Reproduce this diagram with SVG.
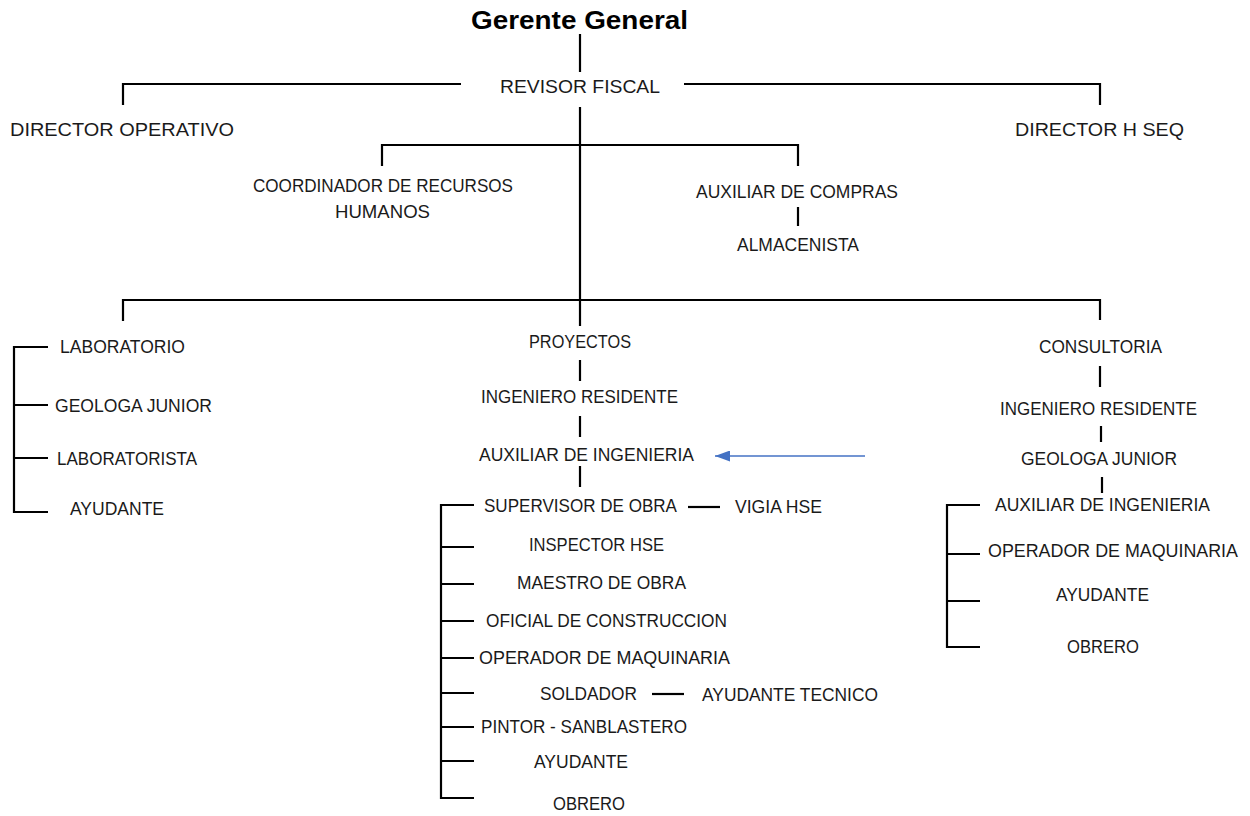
<svg xmlns="http://www.w3.org/2000/svg" width="1250" height="816" viewBox="0 0 1250 816">
<defs>
<style>
text{font-family:"Liberation Sans","Open Sans",Arial,sans-serif;font-size:18px;fill:#1a1a1a}
.t{font-size:25px;font-weight:bold;fill:#000}
.c line,.c polyline{stroke:#000;stroke-width:2.2;fill:none}
.c line.a{stroke:#4472C4;stroke-width:1.5;fill:none}
</style>
<marker id="ah" viewBox="0 0 15 11" refX="15" refY="5.5" markerWidth="15" markerHeight="11" orient="auto-start-reverse" markerUnits="userSpaceOnUse"><path d="M0,0 L15,5.5 L0,11 z" fill="#4472C4"/></marker>
</defs>
<rect width="1250" height="816" fill="#fff"/>
<g class="c" id="connectors">
<line x1="580" y1="34" x2="580" y2="72"/>
<polyline points="123,105 123,84 461,84"/>
<polyline points="684,84 1100,84 1100,105"/>
<line x1="580" y1="107" x2="580" y2="326"/>
<polyline points="382,166 382,145 798,145 798,166"/>
<line x1="798" y1="207" x2="798" y2="226"/>
<polyline points="123,321 123,300 1100,300 1100,320"/>
<polyline points="48,347 14,347 14,512 48,512"/>
<line x1="14" y1="405" x2="48" y2="405"/>
<line x1="14" y1="458" x2="48" y2="458"/>
<line x1="580" y1="360" x2="580" y2="381"/>
<line x1="580" y1="416" x2="580" y2="437"/>
<line x1="580" y1="466" x2="580" y2="487"/>
<polyline points="474,505 441,505 441,798 474,798"/>
<line x1="441" y1="547" x2="474" y2="547"/>
<line x1="441" y1="584" x2="474" y2="584"/>
<line x1="441" y1="621" x2="474" y2="621"/>
<line x1="441" y1="658" x2="474" y2="658"/>
<line x1="441" y1="693" x2="474" y2="693"/>
<line x1="441" y1="727" x2="474" y2="727"/>
<line x1="441" y1="761" x2="474" y2="761"/>
<line x1="688" y1="507" x2="720" y2="507"/>
<line x1="652" y1="694" x2="684" y2="694"/>
<line x1="1100" y1="366" x2="1100" y2="387"/>
<line x1="1101" y1="426" x2="1101" y2="442"/>
<line x1="1102" y1="477" x2="1102" y2="493"/>
<polyline points="980,505 947,505 947,647 980,647"/>
<line x1="947" y1="554" x2="980" y2="554"/>
<line x1="947" y1="601" x2="980" y2="601"/>
<line class="a" x1="865" y1="456" x2="715" y2="456" marker-end="url(#ah)"/>
</g>
<g id="gerente"><text class="t" x="471" y="29" textLength="217" lengthAdjust="spacingAndGlyphs">Gerente General</text></g>
<g id="revisor"><text x="500" y="93" textLength="160" lengthAdjust="spacingAndGlyphs">REVISOR FISCAL</text></g>
<g id="dir-op"><text x="10" y="136" textLength="224" lengthAdjust="spacingAndGlyphs">DIRECTOR OPERATIVO</text></g>
<g id="dir-hseq"><text x="1015" y="136" textLength="169" lengthAdjust="spacingAndGlyphs">DIRECTOR H SEQ</text></g>
<g id="coord-rrhh"><text x="253" y="192" textLength="260" lengthAdjust="spacingAndGlyphs">COORDINADOR DE RECURSOS</text><text x="335" y="218" textLength="95" lengthAdjust="spacingAndGlyphs">HUMANOS</text></g>
<g id="aux-compras"><text x="696" y="198" textLength="202" lengthAdjust="spacingAndGlyphs">AUXILIAR DE COMPRAS</text></g>
<g id="almacenista"><text x="737" y="251" textLength="122" lengthAdjust="spacingAndGlyphs">ALMACENISTA</text></g>
<g id="laboratorio"><text x="60" y="353" textLength="125" lengthAdjust="spacingAndGlyphs">LABORATORIO</text></g>
<g id="lab-geologa"><text x="55" y="412" textLength="157" lengthAdjust="spacingAndGlyphs">GEOLOGA JUNIOR</text></g>
<g id="laboratorista"><text x="57" y="465" textLength="140" lengthAdjust="spacingAndGlyphs">LABORATORISTA</text></g>
<g id="lab-ayudante"><text x="70" y="515" textLength="94" lengthAdjust="spacingAndGlyphs">AYUDANTE</text></g>
<g id="proyectos"><text x="529" y="348" textLength="102" lengthAdjust="spacingAndGlyphs">PROYECTOS</text></g>
<g id="pr-ingeniero"><text x="481" y="403" textLength="197" lengthAdjust="spacingAndGlyphs">INGENIERO RESIDENTE</text></g>
<g id="pr-auxiliar"><text x="479" y="461" textLength="215" lengthAdjust="spacingAndGlyphs">AUXILIAR DE INGENIERIA</text></g>
<g id="supervisor"><text x="484" y="512" textLength="193" lengthAdjust="spacingAndGlyphs">SUPERVISOR DE OBRA</text></g>
<g id="vigia"><text x="735" y="513" textLength="87" lengthAdjust="spacingAndGlyphs">VIGIA HSE</text></g>
<g id="inspector"><text x="529" y="551" textLength="135" lengthAdjust="spacingAndGlyphs">INSPECTOR HSE</text></g>
<g id="maestro"><text x="517" y="589" textLength="169" lengthAdjust="spacingAndGlyphs">MAESTRO DE OBRA</text></g>
<g id="oficial"><text x="486" y="627" textLength="241" lengthAdjust="spacingAndGlyphs">OFICIAL DE CONSTRUCCION</text></g>
<g id="pr-operador"><text x="479" y="664" textLength="251" lengthAdjust="spacingAndGlyphs">OPERADOR DE MAQUINARIA</text></g>
<g id="soldador"><text x="540" y="700" textLength="97" lengthAdjust="spacingAndGlyphs">SOLDADOR</text></g>
<g id="ayud-tecnico"><text x="702" y="701" textLength="176" lengthAdjust="spacingAndGlyphs">AYUDANTE TECNICO</text></g>
<g id="pintor"><text x="481" y="733" textLength="206" lengthAdjust="spacingAndGlyphs">PINTOR - SANBLASTERO</text></g>
<g id="pr-ayudante"><text x="534" y="768" textLength="94" lengthAdjust="spacingAndGlyphs">AYUDANTE</text></g>
<g id="pr-obrero"><text x="553" y="810" textLength="72" lengthAdjust="spacingAndGlyphs">OBRERO</text></g>
<g id="consultoria"><text x="1039" y="353" textLength="123" lengthAdjust="spacingAndGlyphs">CONSULTORIA</text></g>
<g id="co-ingeniero"><text x="1000" y="415" textLength="197" lengthAdjust="spacingAndGlyphs">INGENIERO RESIDENTE</text></g>
<g id="co-geologa"><text x="1021" y="465" textLength="156" lengthAdjust="spacingAndGlyphs">GEOLOGA JUNIOR</text></g>
<g id="co-auxiliar"><text x="995" y="511" textLength="215" lengthAdjust="spacingAndGlyphs">AUXILIAR DE INGENIERIA</text></g>
<g id="co-operador"><text x="988" y="557" textLength="250" lengthAdjust="spacingAndGlyphs">OPERADOR DE MAQUINARIA</text></g>
<g id="co-ayudante"><text x="1056" y="601" textLength="93" lengthAdjust="spacingAndGlyphs">AYUDANTE</text></g>
<g id="co-obrero"><text x="1067" y="653" textLength="72" lengthAdjust="spacingAndGlyphs">OBRERO</text></g>
</svg>
